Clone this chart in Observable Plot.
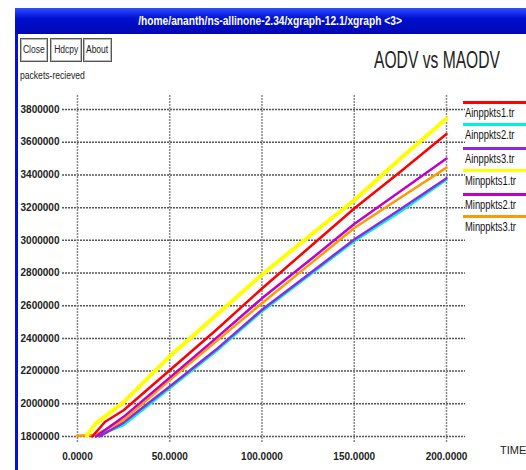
<!DOCTYPE html>
<html><head><meta charset="utf-8">
<script src="https://cdn.jsdelivr.net/npm/d3@7"></script>
<script src="https://cdn.jsdelivr.net/npm/@observablehq/plot@0.6"></script>
<style>
body{margin:0;background:#fff;width:526px;height:470px;overflow:hidden;position:relative;font-family:"Liberation Sans",Arial,sans-serif;}
#chart{position:absolute;left:0;top:0;}
.abs{position:absolute;}
#lborder{left:15px;top:8px;width:3px;height:462px;background:#0010e0;}
#tbar{left:15px;top:8px;width:511px;height:26px;background:linear-gradient(#3050ff,#0010d0 40%,#0008b0);color:#fff;font-weight:bold;font-size:12px;line-height:26px;text-align:center;}
#tbar span{display:inline-block;transform:scaleX(0.85);}
.btn{top:38px;height:22px;border:1px solid #555;box-shadow:inset 0 0 0 1px #bbb;font-size:10px;line-height:22px;text-align:center;color:#222;background:#fff;overflow:hidden;white-space:nowrap;}
.btn span{display:inline-block;transform:scaleX(0.85);}
#title{left:374px;top:47px;font-size:23px;color:#222;transform:scaleX(0.68);transform-origin:left top;white-space:nowrap;}
#ylab{left:20px;top:69px;font-size:11px;color:#222;transform:scaleX(0.78);transform-origin:left top;white-space:nowrap;}
#xlab{left:500px;top:444px;font-size:11px;color:#222;}
.leg{position:absolute;left:463px;width:63px;}
.legline{height:3px;}
.legtxt{font-size:12px;color:#111;margin-top:2px;margin-left:2px;white-space:nowrap;transform:scaleX(0.78);transform-origin:left top;}
</style></head>
<body>
<div id="chart"></div>
<div class="abs" id="lborder"></div>
<div class="abs" id="tbar"><span>/home/ananth/ns-allinone-2.34/xgraph-12.1/xgraph &lt;3&gt;</span></div>
<div class="abs btn" style="left:20px;width:26px"><span>Close</span></div>
<div class="abs btn" style="left:50px;width:30px"><span>Hdcpy</span></div>
<div class="abs btn" style="left:83px;width:27px"><span>About</span></div>
<div class="abs" id="title">AODV vs MAODV</div>
<div class="abs" id="ylab">packets-recieved</div>
<div class="abs" id="xlab">TIME</div>
<div id="legend"></div>
<script>
const seriesNames = ["Ainppkts1.tr","Ainppkts2.tr","Ainppkts3.tr","Minppkts1.tr","Minppkts2.tr","Minppkts3.tr"];
const seriesColors = ["#ff0000","#00f0d8","#8a2be2","#ffff00","#c000c8","#ff9900"];
const legendTops = [101,123,147,169,193,215];

const yTicks = [1800000,2000000,2200000,2400000,2600000,2800000,3000000,3200000,3400000,3600000,3800000];
const yTickLabels = ["1800000","2000000","2200000","2400000","2600000","2800000","3000000","3200000","3400000","3600000","3800000"];
const xTicks = [0,50,100,150,200];
const xTickLabels = ["0.0000","50.0000","100.0000","150.0000","200.0000"];

// series values (time, packets)
const t1 = [8,15,25,50,75,100,125,150,175,200];
const v1 = [1800000,1890000,1960000,2205000,2450000,2705000,2950000,3195000,3420000,3650000];
const t2 = [10,25,50,75,100,125,150,175,200];
const v2 = [1800000,1870000,2095000,2320000,2565000,2780000,2995000,3175000,3370000];
const t3 = [12,25,50,75,100,125,150,175,200];
const v3 = [1800000,1885000,2105000,2330000,2575000,2790000,3005000,3190000,3380000];
const t4 = [5,10,25,50,75,100,125,150,175,200];
const v4 = [1805000,1880000,2010000,2290000,2540000,2790000,3020000,3245000,3500000,3745000];
const t5 = [10,25,50,75,100,125,150,175,200];
const v5 = [1800000,1920000,2160000,2400000,2645000,2870000,3100000,3300000,3500000];
const t6 = [0,10,25,50,75,100,125,150,175,200];
const v6 = [1805000,1810000,1900000,2145000,2380000,2615000,2845000,3075000,3260000,3445000];

const ts = [t1,t2,t3,t4,t5,t6], vs = [v1,v2,v3,v4,v5,v6];
const data = [];
ts.forEach((t,i)=>t.forEach((x,j)=>data.push({s:seriesNames[i],t:x,v:vs[i][j]})));
const drawOrder = [1,2,5,4,0,3];
const widths = {"Minppkts1.tr":4};

const font = '"Liberation Sans",Arial,sans-serif';
const chart = Plot.plot({
  width:526, height:470,
  marginLeft:62, marginRight:61, marginTop:95, marginBottom:28,
  style:{fontFamily:font, fontSize:"10px", background:"transparent", color:"#222"},
  x:{domain:[-8.1,210.3], axis:null},
  y:{domain:[1763000,3886000], axis:null},
  color:{domain:seriesNames, range:seriesColors},
  marks:[
    Plot.ruleY(yTicks,{stroke:"#555",strokeWidth:1.5,strokeDasharray:"2,1"}),
    Plot.ruleX(xTicks,{stroke:"#888",strokeWidth:1.5,strokeDasharray:"2,1"}),
    Plot.text(yTicks,{x:-8.1,y:d=>d,text:(d,i)=>yTickLabels[i],textAnchor:"end",dx:-3,fontWeight:"bold"}),
    Plot.text(xTicks,{x:d=>d,y:1763000,text:(d,i)=>xTickLabels[i],dy:14,fontWeight:"bold"}),
    ...drawOrder.map(i=>Plot.line(data.filter(d=>d.s===seriesNames[i]),{x:"t",y:"v",stroke:"s",strokeWidth:widths[seriesNames[i]]||2.5}))
  ]
});
document.getElementById("chart").appendChild(chart);

const leg = document.getElementById("legend");
seriesNames.forEach((n,i)=>{
  const d = document.createElement("div");
  d.className="leg"; d.style.top=legendTops[i]+"px";
  d.innerHTML = `<div class="legline" style="background:${seriesColors[i]}"></div><div class="legtxt">${n}</div>`;
  leg.appendChild(d);
});
</script>
</body></html>
